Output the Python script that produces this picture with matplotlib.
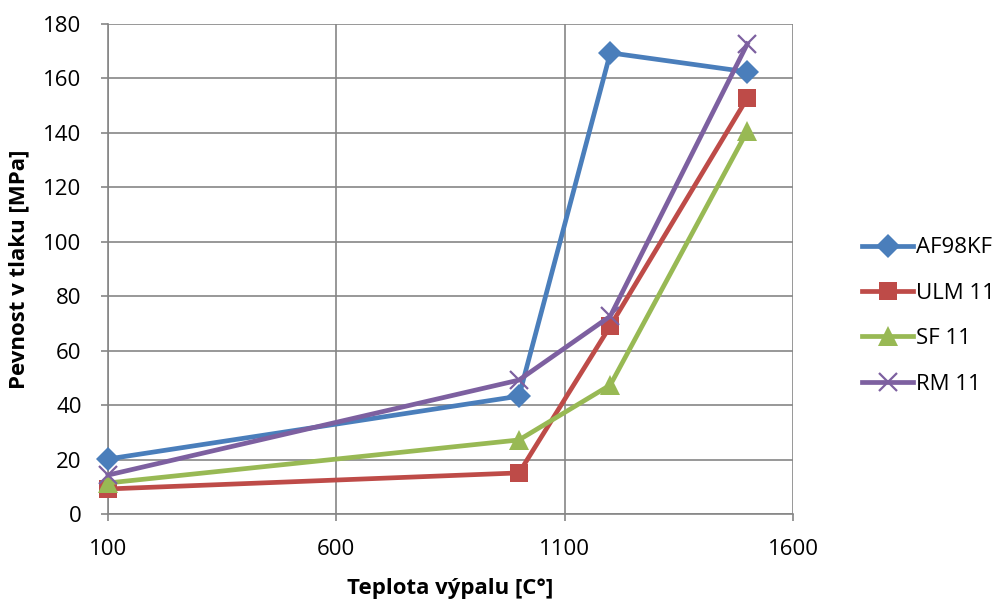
import matplotlib
matplotlib.use('Agg')
import matplotlib.pyplot as plt

plt.rcParams['font.family'] = ['Open Sans', 'DejaVu Sans']

# firing temperature [°C] and compressive strength [MPa]
teploty = [100, 1000, 1200, 1500]
af98kf = [20.2, 43.3, 169.4, 162.4]
ulm11 = [9.2, 15.1, 69.1, 152.8]
sf11 = [11.4, 27.2, 47.4, 140.7]
rm11 = [14.3, 49.2, 72.7, 172.7]

serie = [
    ('AF98KF', af98kf, '#4A7EBB', 'D', 12),
    ('ULM 11', ulm11, '#BE4B48', 's', 13.5),
    ('SF 11', sf11, '#98B954', '^', 15),
    ('RM 11', rm11, '#7D60A0', 'x', 13),
]

fig = plt.figure(figsize=(10.03, 6.0), dpi=100)
ax = fig.add_axes([108 / 1003, 1 - 514 / 600, (793 - 108) / 1003, (514 - 24) / 600])

for nazev, hodnoty, barva, znacka, vel in serie:
    ax.plot(teploty, hodnoty, color=barva, lw=3.4, marker=znacka, ms=vel,
            mew=1.6 if znacka == 'x' else 0, mec=barva, mfc=barva, label=nazev,
            clip_on=False, zorder=3)

ax.set_xlim(100, 1600)
ax.set_ylim(0, 180)
ax.set_xticks([100, 600, 1100, 1600])
ax.set_yticks(range(0, 181, 20))
ax.grid(True, color='#868686', lw=1.2)
ax.set_axisbelow(True)
for s in ['top', 'right']:
    ax.spines[s].set_visible(False)
for s in ['left', 'bottom']:
    ax.spines[s].set_color('#868686')
    ax.spines[s].set_linewidth(1.2)
ax.tick_params(axis='both', colors='#868686', labelcolor='black', labelsize=16, length=5, width=1.2)
ax.tick_params(axis='x', pad=13)
ax.tick_params(axis='y', pad=14)

ax.set_xlabel('Teplota výpalu [C°]', fontsize=16, fontweight='bold', labelpad=13)
ax.set_ylabel('Pevnost v tlaku [MPa]', fontsize=16, fontweight='bold', labelpad=10)

ax.legend(loc='center left', bbox_to_anchor=(842 / 1003, 1 - 316 / 600),
          bbox_transform=fig.transFigure, frameon=False,
          fontsize=16, handlelength=2.3, labelspacing=1.1, handletextpad=0.15)

fig.savefig('out.png', dpi=100)
